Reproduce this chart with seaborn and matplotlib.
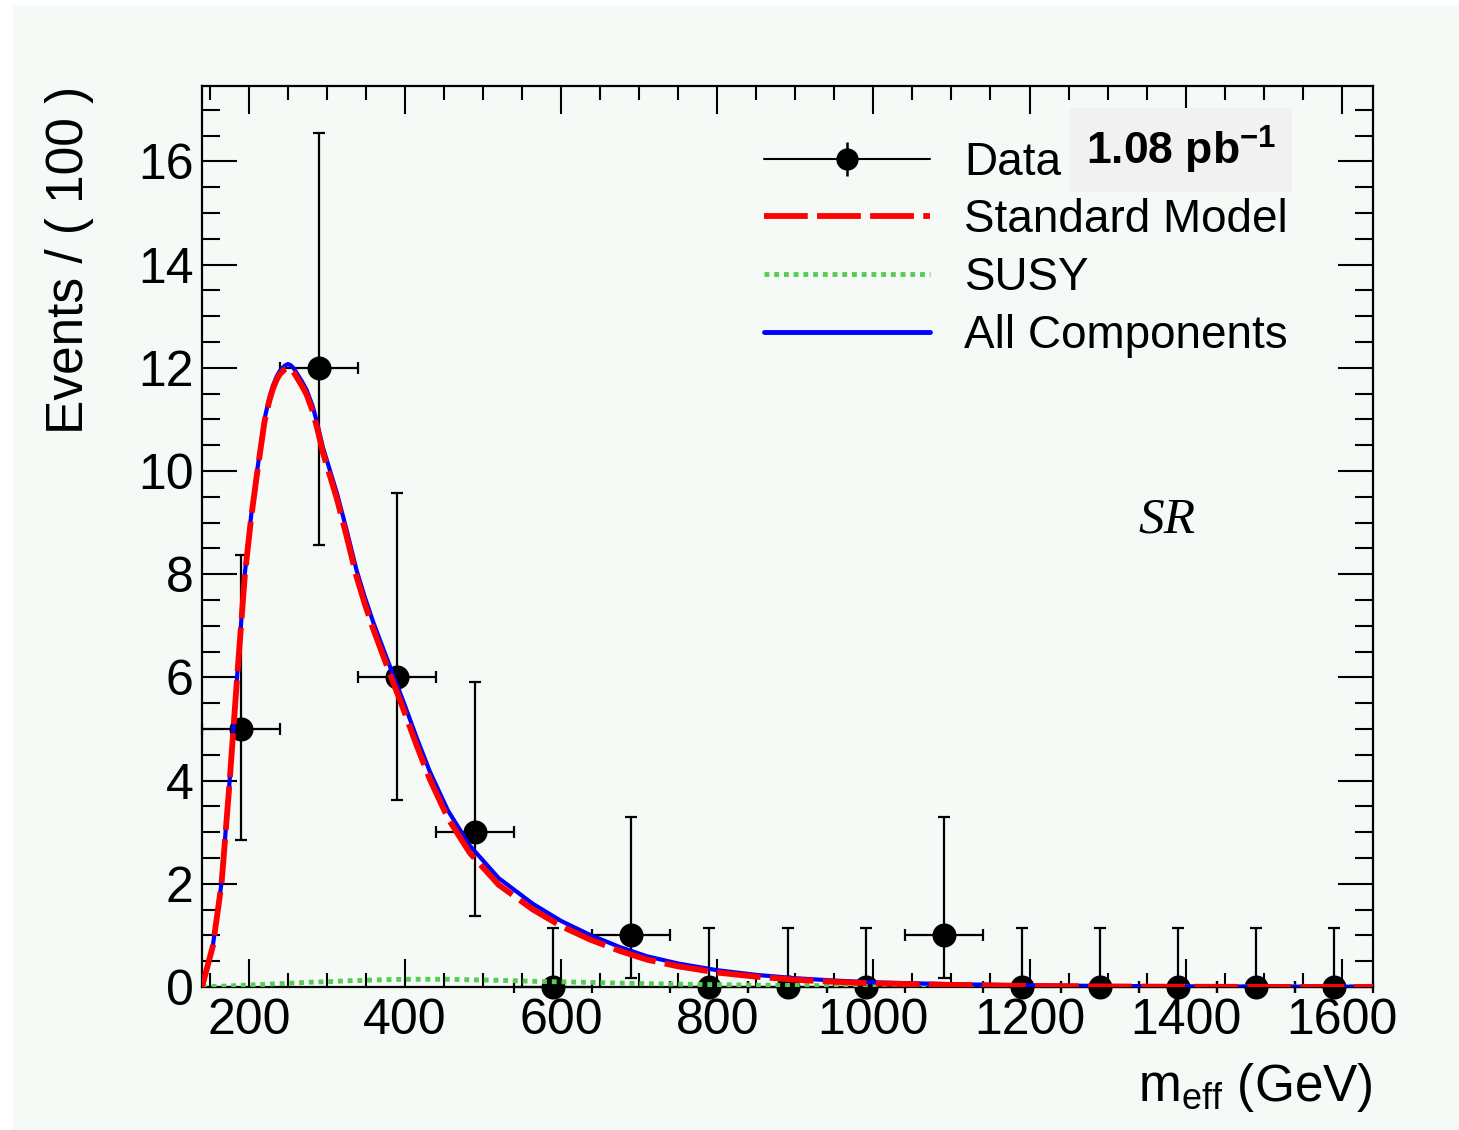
import numpy as np
import pandas as pd
import matplotlib
matplotlib.use("Agg")
import matplotlib.pyplot as plt
import seaborn as sns
from matplotlib.lines import Line2D
from matplotlib.legend_handler import HandlerTuple
from matplotlib.patches import Rectangle
from matplotlib.ticker import MultipleLocator

# ---------------- data ----------------
bin_centers = [190, 290, 390, 490, 590, 690, 790, 890, 990, 1090, 1190, 1290, 1390, 1490, 1590]
counts = [5, 12, 6, 3, 0, 1, 0, 0, 0, 1, 0, 0, 0, 0, 0]
err_low = [2.16, 3.44, 2.38, 1.63, 0.0, 0.83, 0.0, 0.0, 0.0, 0.83, 0.0, 0.0, 0.0, 0.0, 0.0]
err_high = [3.38, 4.55, 3.58, 2.92, 1.15, 2.30, 1.15, 1.15, 1.15, 2.30, 1.15, 1.15, 1.15, 1.15, 1.15]
bin_half_width = 50

curve_x = [140, 154, 165, 175, 185, 195, 203, 211, 220, 226, 231, 236, 240, 246, 250, 254, 258, 262, 268, 274, 282,
           288, 295, 304, 313, 325, 338, 348, 359, 372, 385, 400, 415, 432, 455, 483, 520, 564, 600, 637, 675,
           710, 750, 800, 850, 900, 950, 1000, 1100, 1200, 1300, 1400, 1500, 1640]
sm_curve = [0.0, 0.8, 2.0, 3.9, 6.0, 8.0, 9.1, 10.0, 10.95, 11.35, 11.6, 11.78, 11.88, 11.97, 12.0, 11.97, 11.9, 11.8, 11.65, 11.48, 11.15,
            10.8, 10.35, 9.9, 9.45, 8.75, 7.95, 7.45, 6.95, 6.42, 5.9, 5.3, 4.68, 4.02, 3.27, 2.6, 1.98, 1.5, 1.18, 0.92, 0.7,
            0.53, 0.4, 0.28, 0.2, 0.14, 0.1, 0.07, 0.04, 0.02, 0.01, 0.005, 0.002, 0.0]
susy_curve = [0.0, 0.01, 0.015, 0.02, 0.03, 0.035, 0.04, 0.045, 0.05, 0.055, 0.06, 0.062, 0.065, 0.07, 0.072, 0.075, 0.078, 0.08, 0.085, 0.09, 0.095,
              0.098, 0.1, 0.105, 0.11, 0.12, 0.125, 0.13, 0.135, 0.14, 0.145, 0.15, 0.15, 0.15, 0.15, 0.14, 0.13, 0.11, 0.1, 0.09, 0.075,
              0.065, 0.055, 0.045, 0.035, 0.03, 0.025, 0.02, 0.015, 0.012, 0.01, 0.008, 0.006, 0.005]

x_ticks = [200, 400, 600, 800, 1000, 1200, 1400, 1600]
y_ticks = [0, 2, 4, 6, 8, 10, 12, 14, 16]

df_data = pd.DataFrame({"x": bin_centers, "y": counts})
df_curve = pd.DataFrame({"x": curve_x, "sm": sm_curve, "susy": susy_curve})
df_curve["all"] = df_curve["sm"] + df_curve["susy"]

# ---------------- style ----------------
sns.set_theme(style="white")
plt.rcParams["font.family"] = ["Liberation Sans", "DejaVu Sans"]
plt.rcParams["mathtext.fontset"] = "custom"
plt.rcParams["mathtext.rm"] = "Liberation Sans"
plt.rcParams["mathtext.it"] = "Liberation Sans:italic"
plt.rcParams["mathtext.bf"] = "Liberation Sans:bold"
plt.rcParams["text.color"] = "black"
plt.rcParams["axes.labelcolor"] = "black"
plt.rcParams["xtick.color"] = "black"
plt.rcParams["ytick.color"] = "black"

bg = "#f5faf7"
fig = plt.figure(figsize=(14.59, 11.30), dpi=100, facecolor="white")
fig.patches.append(Rectangle((13 / 1459, 0), 1 - 13 / 1459, 1 - 6 / 1130,
                             transform=fig.transFigure, facecolor=bg, edgecolor="none", zorder=-10))
ax = fig.add_axes([202 / 1459, 1 - 987 / 1130, (1373 - 202) / 1459, (987 - 86) / 1130])
ax.set_facecolor(bg)

# data error bars and markers
ax.errorbar(df_data["x"], df_data["y"], yerr=[err_low, err_high], xerr=bin_half_width,
            fmt="none", ecolor="black", elinewidth=1.6, capsize=4.5, capthick=1.6, zorder=2, clip_on=False)
sns.scatterplot(data=df_data, x="x", y="y", ax=ax, color="black", s=300, marker="o",
                edgecolor="black", linewidth=0, zorder=3, clip_on=False, legend=False)

# curves
sns.lineplot(data=df_curve, x="x", y="susy", ax=ax, color="#55cc55", lw=3.5,
             dashes=False, zorder=4, legend=False)
ax.lines[-1].set_linestyle((0, (1, 1)))
sns.lineplot(data=df_curve, x="x", y="all", ax=ax, color="#0000ff", lw=3.0, zorder=5, legend=False)
sns.lineplot(data=df_curve, x="x", y="sm", ax=ax, color="#ff0000", lw=4.2, zorder=6, legend=False)
ax.lines[-1].set_linestyle((0, (7.5, 1.6)))

ax.set_xlim(140, 1640)
ax.set_ylim(0, 17.46)
ax.set_xticks(x_ticks)
ax.set_yticks(y_ticks)
ax.xaxis.set_minor_locator(MultipleLocator(50))
ax.yaxis.set_minor_locator(MultipleLocator(0.5))
ax.tick_params(axis="x", which="major", direction="in", length=20, width=1.5, top=True, bottom=True,
               labelsize=36, pad=8, colors="black")
ax.tick_params(axis="x", which="minor", direction="in", length=10, width=1.5, top=True, bottom=True)
ax.tick_params(axis="y", which="major", direction="in", length=25, width=1.5, left=True, right=True,
               labelsize=36, pad=6, colors="black")
ax.tick_params(axis="y", which="minor", direction="in", length=13, width=1.5, left=True, right=True)
for s in ax.spines.values():
    s.set_visible(True)
    s.set_color("black")
    s.set_linewidth(1.6)

ax.set_xlabel(r"m$_{\rm eff}$ (GeV)", fontsize=37, loc="right", labelpad=12, color="black")
ax.set_ylabel("Events / ( 100 )", fontsize=37, loc="top", labelpad=32, color="black")

# legend
data_handle = (Line2D([], [], color="black", lw=1.5),
               Line2D([], [], marker="|", markersize=24, mew=1.8, ls="none", color="black"),
               Line2D([], [], marker="o", markersize=15, ls="none", color="black"))
sm_handle = Line2D([], [], color="#ff0000", lw=4.2, ls=(0, (7.5, 1.6)))
susy_handle = Line2D([], [], color="#55cc55", lw=3.5, ls=(0, (1, 1)))
all_handle = Line2D([], [], color="#0000ff", lw=3.5)
leg = ax.legend([data_handle, sm_handle, susy_handle, all_handle],
                ["Data", "Standard Model", "SUSY", "All Components"],
                handler_map={tuple: HandlerTuple(ndivide=1)},
                loc="upper left", bbox_to_anchor=((750 - 202) / 1171, 1 - (127 - 86) / 901),
                frameon=False, fontsize=33, handlelength=3.62, handletextpad=0.76,
                labelspacing=0.30, borderpad=0.3, borderaxespad=0)
for t in leg.get_texts():
    t.set_color("black")

ax.text((1181 - 202) / 1171, 1 - (150 - 86) / 901, r"1.08 pb$^{\mathbf{-1}}$", transform=ax.transAxes,
        fontsize=32, fontweight="bold", ha="center", va="center", zorder=10, color="black",
        bbox=dict(boxstyle="square,pad=0.35", facecolor="#f1f1f1", edgecolor="none"))
ax.text((1167 - 202) / 1171, 1 - (520 - 86) / 901, "SR", transform=ax.transAxes,
        fontsize=37, family="Liberation Serif", style="italic", ha="center", va="center", color="black")

fig.savefig("out.png", dpi=100, facecolor="white")
